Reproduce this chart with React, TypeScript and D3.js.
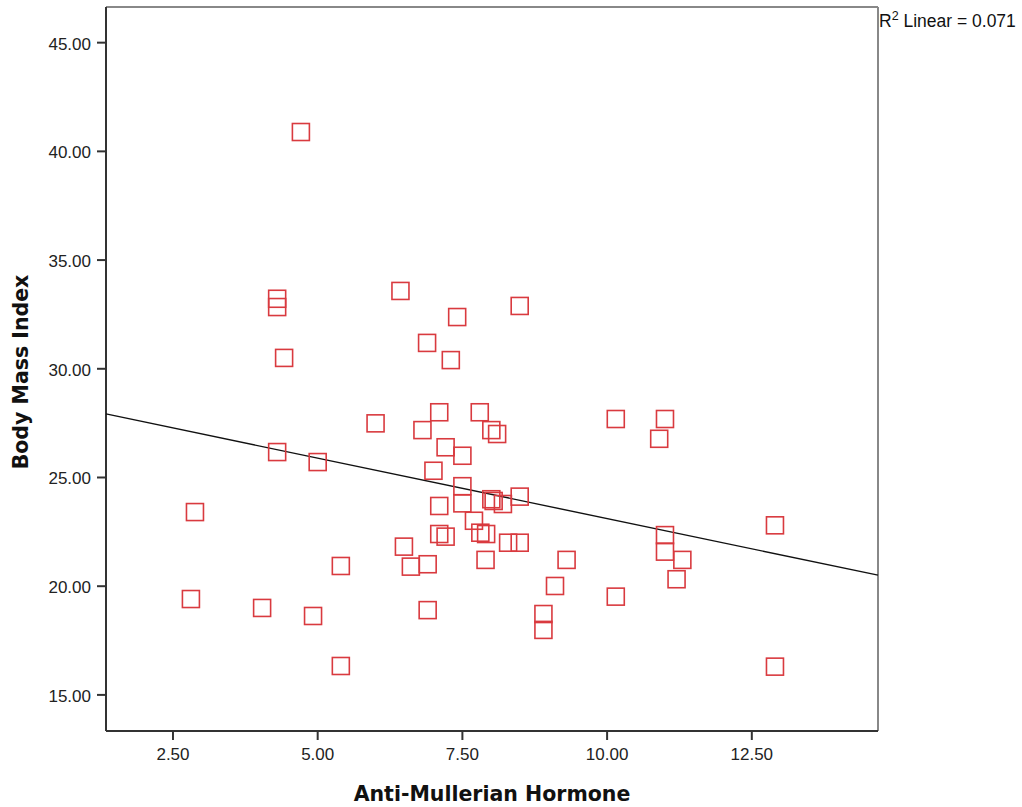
import React from "react";
import * as d3 from "d3";

// Anti-Mullerian Hormone (x) vs Body Mass Index (y)
const amh = [
  4.71, 4.3, 4.3, 4.42, 4.3, 5.0, 2.88, 2.81, 4.04, 4.92,
  5.4, 5.4, 6.0, 6.43, 6.49, 6.61, 6.9, 6.9, 6.89, 6.81,
  7.0, 7.1, 7.1, 7.1, 7.21, 7.21, 7.3, 7.41, 7.5, 7.5,
  7.5, 7.7, 7.8, 7.81, 7.91, 7.9, 8.0, 8.1, 8.0, 8.04,
  8.2, 8.49, 8.29, 8.49, 8.49, 9.3, 9.1, 8.9, 8.9, 10.15,
  11.0, 10.9, 11.0, 11.0, 11.3, 11.2, 10.15, 12.9, 12.9,
];
const bmi = [
  40.89, 33.22, 32.84, 30.5, 26.17, 25.71, 23.41, 19.41, 19.0, 18.63,
  20.93, 16.33, 27.49, 33.58, 21.82, 20.9, 21.01, 18.9, 31.19, 27.18,
  25.31, 28.0, 23.69, 22.4, 22.28, 26.39, 30.4, 32.38, 26.0, 24.6,
  23.81, 23.01, 28.0, 22.46, 22.4, 21.21, 27.18, 27.0, 24.0, 23.92,
  23.78, 24.12, 22.0, 22.0, 32.89, 21.21, 20.01, 18.72, 17.99, 27.69,
  27.69, 26.78, 22.35, 21.59, 21.21, 20.32, 19.52, 22.8, 16.3,
];

const xTicks = [2.5, 5, 7.5, 10, 12.5];
const yTicks = [15, 20, 25, 30, 35, 40, 45];

// linear fit shown on the chart
const fitIntercept = 28.67;
const fitSlope = -0.556;
const rSquared = "0.071";

const W = 1022;
const H = 807;

export default function App() {
  const left = 106, right = 878, top = 7, bottom = 731;

  const x = d3.scaleLinear().domain([1.343, 14.68]).range([left, right]);
  const y = d3.scaleLinear().domain([13.34, 46.64]).range([bottom, top]);

  const points = amh.map((a, i) => ({ a, b: bmi[i] }));
  const [x0, x1] = x.domain();
  const fitLine = d3
    .line<number>()
    .x((d) => x(d))
    .y((d) => y(fitIntercept + fitSlope * d));

  const size = 17;
  const fmt = d3.format(".2f");

  return (
    <svg
      width={W}
      height={H}
      style={{ position: "absolute", left: 0, top: 0, background: "#fff" }}
    >
      {/* frame */}
      <line x1={left} x2={right} y1={top} y2={top} stroke="#888" strokeWidth={2} />
      <line x1={right} x2={right} y1={top} y2={bottom} stroke="#888" strokeWidth={2} />
      <line x1={left} x2={left} y1={top} y2={bottom} stroke="#333" strokeWidth={2} />
      <line x1={left} x2={right} y1={bottom} y2={bottom} stroke="#333" strokeWidth={2} />

      {/* y ticks */}
      {yTicks.map((t) => (
        <g key={"y" + t}>
          <line x1={left - 9} x2={left} y1={y(t)} y2={y(t)} stroke="#333" strokeWidth={2} />
          <text
            x={left - 15}
            y={y(t) + 7}
            textAnchor="end"
            fontFamily="'Liberation Sans', Arial, sans-serif"
            fontSize={17}
            fill="#222"
          >
            {fmt(t)}
          </text>
        </g>
      ))}

      {/* x ticks */}
      {xTicks.map((t) => (
        <g key={"x" + t}>
          <line x1={x(t)} x2={x(t)} y1={bottom} y2={bottom + 9} stroke="#333" strokeWidth={2} />
          <text
            x={x(t)}
            y={bottom + 29}
            textAnchor="middle"
            fontFamily="'Liberation Sans', Arial, sans-serif"
            fontSize={17}
            fill="#222"
          >
            {fmt(t)}
          </text>
        </g>
      ))}

      {/* fit line */}
      <path d={fitLine([x0, x1]) || ""} fill="none" stroke="#111" strokeWidth={1.4} />

      {/* markers */}
      {points.map((p, i) => (
        <rect
          key={i}
          x={x(p.a) - size / 2}
          y={y(p.b) - size / 2}
          width={size}
          height={size}
          fill="none"
          stroke="#d93a3f"
          strokeWidth={1.6}
        />
      ))}

      {/* R squared label */}
      <text
        x={right + 1}
        y={27}
        fontFamily="'Liberation Sans', Arial, sans-serif"
        fontSize={17.5}
        fill="#111"
      >
        R
        <tspan dy={-7} fontSize={12.5}>2</tspan>
        <tspan dy={7}>{" Linear = " + rSquared}</tspan>
      </text>

      {/* axis titles */}
      <text
        x={(354 + 630) / 2}
        y={801}
        textAnchor="middle"
        fontFamily="'DejaVu Sans', sans-serif"
        fontWeight="bold"
        fontSize={20.5}
        fill="#111"
      >
        Anti-Mullerian Hormone
      </text>
      <text
        transform={`translate(28, ${(272 + 472) / 2}) rotate(-90)`}
        textAnchor="middle"
        fontFamily="'DejaVu Sans', sans-serif"
        fontWeight="bold"
        fontSize={20.5}
        fill="#111"
      >
        Body Mass Index
      </text>
    </svg>
  );
}
